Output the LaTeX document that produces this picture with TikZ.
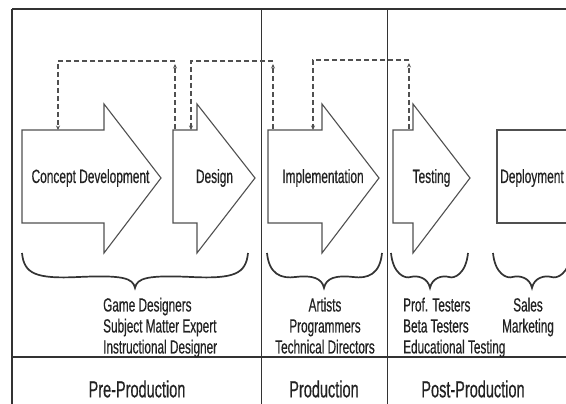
\documentclass[tikz,border=0pt]{standalone}
\usepackage{fontspec}
\setmainfont{Liberation Sans}[FakeStretch=0.62,FakeBold=0.4]
\usetikzlibrary{arrows.meta}
\definecolor{ln}{HTML}{333333}
\definecolor{ol}{HTML}{505050}
\definecolor{tx}{HTML}{222222}
\newcommand{\gamebrace}[4]{%
  \draw[bracestyle] (#1,253) .. controls ({#1+2},274) and ({#1+14},279) .. ({(#1+#3)/2},277)
    .. controls ({#3-12},275) and ({#3-2},278) .. (#3,288)
    .. controls ({#3+2},278) and ({#3+12},275) .. ({(#2+#3)/2},277)
    .. controls ({#2-14},279) and ({#2-2},274) .. (#2,253);
  \coordinate (#4) at (#3,288);}
\begin{document}
\begin{tikzpicture}[x=1pt,y=-1pt,
  frame/.style={draw=ln,line width=1pt},
  arrowshape/.style={draw=ol,line width=1.1pt,line join=miter,fill=white},
  bracestyle/.style={draw=ln,line width=1.7pt},
  dashline/.style={draw=ol,line width=1.2pt,dash pattern=on 5pt off 3pt},
  tipped/.style={-{Stealth[length=4.5pt,width=4pt]}},
  steplabel/.style={font=\fontsize{19.2}{22}\selectfont,text=tx,inner sep=0pt},
  rolelabel/.style={font=\fontsize{19}{21}\selectfont,text=tx,inner sep=0pt},
  phaselabel/.style={font=\fontsize{23.4}{26}\selectfont,text=tx,inner sep=0pt}]
\useasboundingbox (0,0) rectangle (566,404);
\clip (0,0) rectangle (566,404);
\fill[white] (0,0) rectangle (566,404);
% frame
\draw[frame,line width=2.4pt] (12,9) -- (580,9);
\draw[frame,line width=1.4pt] (12,9) -- (12,410);
\draw[frame] (261,9) -- (261,410);
\draw[frame] (387,9) -- (387,410);
\draw[frame,line width=1.3pt] (12,357) -- (580,357);
% process arrows
\draw[arrowshape] (22,130) -- (104,130) -- (104,104) -- (161,178) -- (104,253) -- (104,223) -- (22,223) -- cycle;
\draw[arrowshape] (173,130) -- (197,130) -- (197,104) -- (255,178) -- (197,253) -- (197,223) -- (173,223) -- cycle;
\draw[arrowshape] (268,130) -- (322,130) -- (322,104) -- (379,178) -- (322,253) -- (322,223) -- (268,223) -- cycle;
\draw[arrowshape] (393,130) -- (413,130) -- (413,104) -- (470,178) -- (413,253) -- (413,223) -- (393,223) -- cycle;
\draw[arrowshape] (580,130) -- (497,130) -- (497,223) -- (580,223);
\node[steplabel] (concept) at (90.5,178) {Concept Development};
\node[steplabel] (design) at (214.5,178) {Design};
\node[steplabel] (impl) at (323,178) {Implementation};
\node[steplabel] (testing) at (431.5,178) {Testing};
\node[steplabel] (deploy) at (532,178) {Deployment};
% connector end points
\coordinate (cd-top) at (58,130);
\coordinate (ds-left) at (175,129);
\coordinate (ds-top) at (191,130);
\coordinate (im-left) at (273,129);
\coordinate (im-top) at (313,130);
\coordinate (ts-left) at (409,129);
% feedback connectors
\draw[dashline,tipped] (ds-left) -- (ds-left |- 0,64);
\draw[dashline,tipped] (ds-left |- 0,61) -| (cd-top);
\draw[dashline,tipped] (im-left) -- (im-left |- 0,64);
\draw[dashline,tipped] (im-left |- 0,61) -| (ds-top);
\draw[dashline,tipped] (ts-left) -- (ts-left |- 0,63);
\draw[dashline,tipped] (ts-left |- 0,60) -| (im-top);
% braces
\gamebrace{22}{248}{135}{b1}
\gamebrace{267}{382}{324}{b2}
\gamebrace{391}{468}{430}{b3}
\gamebrace{493}{571}{532}{b4}
% roles
\node[rolelabel,anchor=north west,align=left] (roles1) at (103,297.5) {Game Designers\\Subject Matter Expert\\Instructional Designer};
\node[rolelabel,anchor=north,align=center] (roles2) at (325,297.5) {Artists\\Programmers\\Technical Directors};
\node[rolelabel,anchor=north west,align=left] (roles3) at (403,297.5) {Prof. Testers\\Beta Testers\\Educational Testing};
\node[rolelabel,anchor=north,align=center] (roles4) at (528,297.5) {Sales\\Marketing};
% phases
\node[phaselabel] (pre) at (137,389) {Pre-Production};
\node[phaselabel] (prod) at (324,389) {Production};
\node[phaselabel] (post) at (473,389) {Post-Production};
\end{tikzpicture}
\end{document}
